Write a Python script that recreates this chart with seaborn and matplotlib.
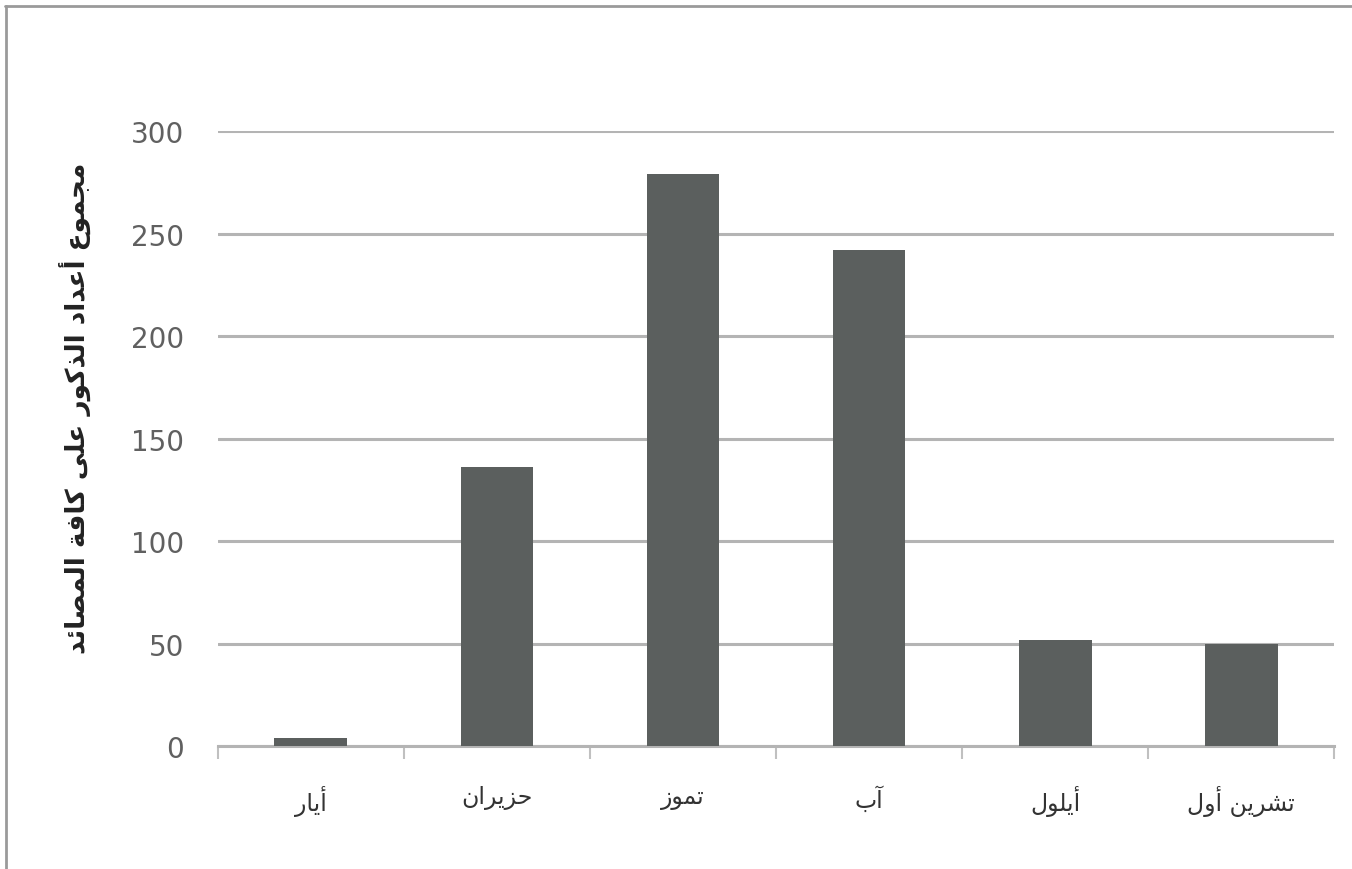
import matplotlib
matplotlib.use("Agg")
import matplotlib.pyplot as plt
import seaborn as sns
import pandas as pd
from matplotlib.lines import Line2D

# ---- data ----
months = ["أيار", "حزيران", "تموز", "آب", "أيلول", "تشرين أول"]
males_total = [4, 136, 279, 242, 52, 50]
y_ticks = [0, 50, 100, 150, 200, 250, 300]
y_label = "مجموع أعداد الذكور على كافة المصائد"

# ---- minimal Arabic shaping (presentation forms + visual order) ----
# letter: (isolated, final, initial, medial); None initial => right-joining only
FORMS = {
    "\u0622": ("\uFE81", "\uFE82", None, None),
    "\u0623": ("\uFE83", "\uFE84", None, None),
    "\u0625": ("\uFE87", "\uFE88", None, None),
    "\u0626": ("\uFE89", "\uFE8A", "\uFE8B", "\uFE8C"),
    "\u0627": ("\uFE8D", "\uFE8E", None, None),
    "\u0628": ("\uFE8F", "\uFE90", "\uFE91", "\uFE92"),
    "\u0629": ("\uFE93", "\uFE94", None, None),
    "\u062A": ("\uFE95", "\uFE96", "\uFE97", "\uFE98"),
    "\u062C": ("\uFE9D", "\uFE9E", "\uFE9F", "\uFEA0"),
    "\u062D": ("\uFEA1", "\uFEA2", "\uFEA3", "\uFEA4"),
    "\u062F": ("\uFEA9", "\uFEAA", None, None),
    "\u0630": ("\uFEAB", "\uFEAC", None, None),
    "\u0631": ("\uFEAD", "\uFEAE", None, None),
    "\u0632": ("\uFEAF", "\uFEB0", None, None),
    "\u0634": ("\uFEB5", "\uFEB6", "\uFEB7", "\uFEB8"),
    "\u0635": ("\uFEB9", "\uFEBA", "\uFEBB", "\uFEBC"),
    "\u0639": ("\uFEC9", "\uFECA", "\uFECB", "\uFECC"),
    "\u0641": ("\uFED1", "\uFED2", "\uFED3", "\uFED4"),
    "\u0643": ("\uFED9", "\uFEDA", "\uFEDB", "\uFEDC"),
    "\u0644": ("\uFEDD", "\uFEDE", "\uFEDF", "\uFEE0"),
    "\u0645": ("\uFEE1", "\uFEE2", "\uFEE3", "\uFEE4"),
    "\u0646": ("\uFEE5", "\uFEE6", "\uFEE7", "\uFEE8"),
    "\u0648": ("\uFEED", "\uFEEE", None, None),
    "\u0649": ("\uFEEF", "\uFEF0", None, None),
    "\u064A": ("\uFEF1", "\uFEF2", "\uFEF3", "\uFEF4"),
}
LAM_ALEF = {
    "\u0622": ("\uFEF5", "\uFEF6"),
    "\u0623": ("\uFEF7", "\uFEF8"),
    "\u0625": ("\uFEF9", "\uFEFA"),
    "\u0627": ("\uFEFB", "\uFEFC"),
}


def shape(text):
    units = []
    i = 0
    while i < len(text):
        c = text[i]
        if c == "\u0644" and i + 1 < len(text) and text[i + 1] in LAM_ALEF:
            units.append(("LA", text[i + 1]))
            i += 2
        else:
            units.append(("C", c))
            i += 1

    def dual(u):
        if u[0] == "LA":
            return False
        f = FORMS.get(u[1])
        return f is not None and f[2] is not None

    def letter(u):
        return u[0] == "LA" or u[1] in FORMS

    out = []
    for k, u in enumerate(units):
        if not letter(u):
            out.append(u[1])
            continue
        prev_j = k > 0 and letter(units[k - 1]) and dual(units[k - 1])
        next_j = dual(u) and k + 1 < len(units) and letter(units[k + 1])
        if u[0] == "LA":
            iso, fin = LAM_ALEF[u[1]]
            out.append(fin if prev_j else iso)
            continue
        iso, fin, ini, med = FORMS[u[1]]
        if prev_j and next_j:
            out.append(med)
        elif prev_j:
            out.append(fin)
        elif next_j:
            out.append(ini)
        else:
            out.append(iso)
    return "".join(out)[::-1]


# ---- plot ----
sns.set_theme(style="white")
plt.rcParams["font.family"] = ["DejaVu Sans"]

fig = plt.figure(figsize=(13.52, 8.70), dpi=100)
ax = fig.add_axes([0.161, 0.141, 0.826, 0.707])

df = pd.DataFrame({"month": [shape(m) for m in months], "count": males_total})
sns.barplot(data=df, x="month", y="count", color="#5b5f5e", saturation=1,
            width=0.39, linewidth=0, edgecolor="none", ax=ax, zorder=3)

ax.set_ylim(0, 300)
ax.set_xlim(-0.5, len(months) - 0.5)
ax.set_yticks(y_ticks)
ax.yaxis.grid(True, color="#b4b4b4", linewidth=2.2, zorder=0)
ax.set_axisbelow(True)

for s in ["top", "right", "left"]:
    ax.spines[s].set_visible(False)
ax.spines["bottom"].set_color("#b4b4b4")
ax.spines["bottom"].set_linewidth(2.2)

ax.tick_params(axis="y", length=0, pad=24, labelsize=20, labelcolor="#606060")
ax.tick_params(axis="x", which="major", length=0, pad=28, labelsize=17,
               labelcolor="#333333")
ax.set_xticks([i - 0.5 for i in range(len(months) + 1)], minor=True)
ax.tick_params(axis="x", which="minor", length=9, width=1.5, color="#c0c0c0",
               bottom=True)

ax.set_xlabel("")
ax.set_ylabel("")
fig.text(75 / 1352, 1 - 408 / 870, shape(y_label), rotation=90, ha="center",
         va="center", fontsize=19, fontweight="bold", color="#222222")

# outer frame (top and left edges visible)
fig.add_artist(Line2D([0.004, 1.0], [1 - 7 / 870, 1 - 7 / 870],
                      transform=fig.transFigure, color="#9a9a9a", linewidth=2))
fig.add_artist(Line2D([6 / 1352, 6 / 1352], [0, 1 - 7 / 870],
                      transform=fig.transFigure, color="#9a9a9a", linewidth=2))

fig.savefig("out.png", dpi=100)
